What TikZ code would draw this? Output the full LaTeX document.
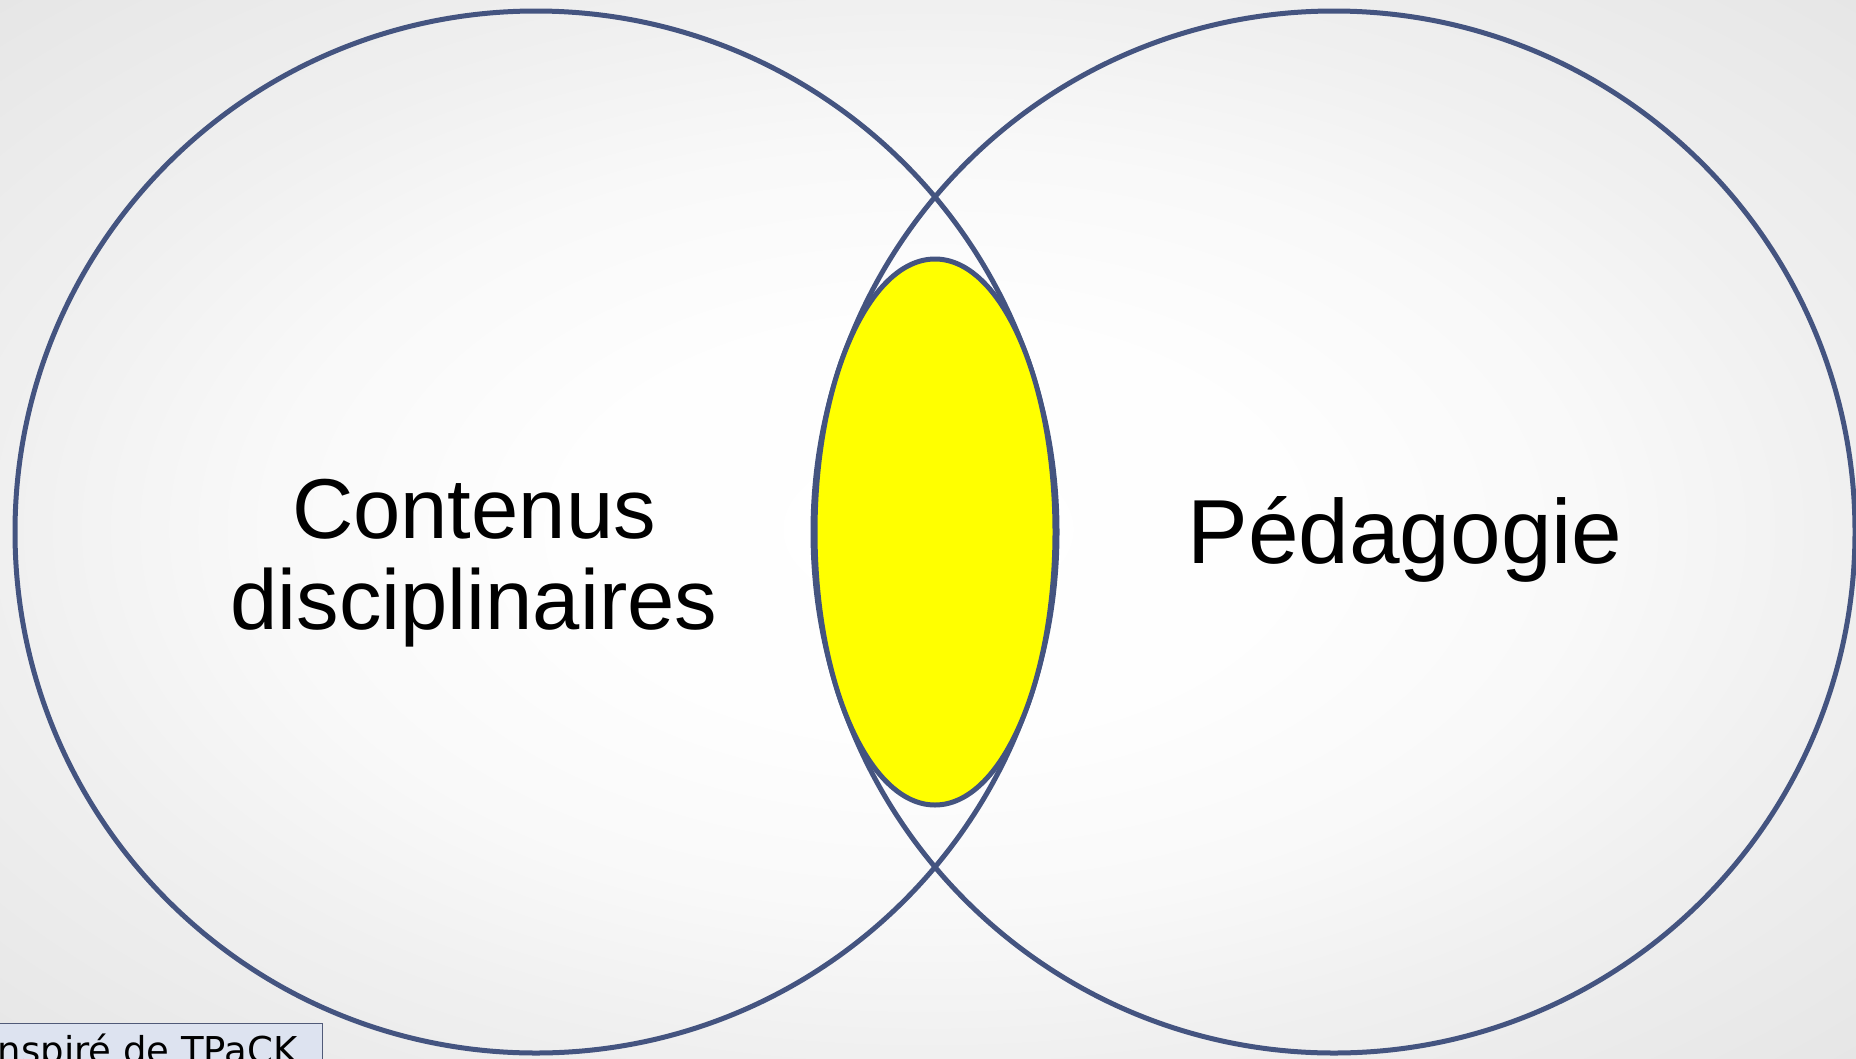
\documentclass[tikz,border=0pt]{standalone}
\usepackage{fontspec}
\setmainfont{Liberation Sans}
\newfontfamily\boxfont{DejaVu Sans}
\definecolor{ringblue}{RGB}{68,84,128}
\definecolor{coreyellow}{RGB}{255,255,0}
\definecolor{notefill}{RGB}{221,227,240}
\definecolor{noteline}{RGB}{80,90,120}
\pgfdeclareradialshading{softbg}{\pgfpoint{0bp}{0bp}}{%
  rgb(0bp)=(1,1,1);
  rgb(10bp)=(0.995,0.995,0.995);
  rgb(18bp)=(0.975,0.975,0.975);
  rgb(25bp)=(0.94,0.94,0.94);
  rgb(36bp)=(0.90,0.90,0.90);
  rgb(50bp)=(0.90,0.90,0.90)}
\tikzset{
  ring/.style={draw=ringblue, line width=5pt},
  core/.style={draw=ringblue, line width=5pt, fill=coreyellow},
  bigtext/.style={align=center, inner sep=0pt},
  notebox/.style={draw=noteline, line width=1.3pt, fill=notefill, font=\boxfont\fontsize{37}{40}\selectfont,
    inner xsep=25pt, inner ysep=13pt, text height=27pt, text depth=8pt, anchor=north east}
}
\begin{document}
\begin{tikzpicture}[x=1pt,y=-1pt]
  \useasboundingbox (0,0) rectangle (1856,1058);
  \clip (0,0) rectangle (1856,1058);
  \shade[shading=softbg] (0,0) rectangle (1856,1058);
  \draw[ring] (536,532) circle[radius=521];
  \draw[ring] (1334,532) circle[radius=521];
  \draw[core] (935,532) ellipse[x radius=120, y radius=273];
  \node[bigtext, font=\fontsize{85}{91}\selectfont] (contenus) at (474,563) {Contenus\\disciplinaires};
  \node[bigtext, font=\fontsize{91}{95}\selectfont, anchor=base] (pedagogie) at (1405,563) {Pédagogie};
  \node[notebox] (note) at (323,1023) {Inspiré de TPaCK};
\end{tikzpicture}
\end{document}
